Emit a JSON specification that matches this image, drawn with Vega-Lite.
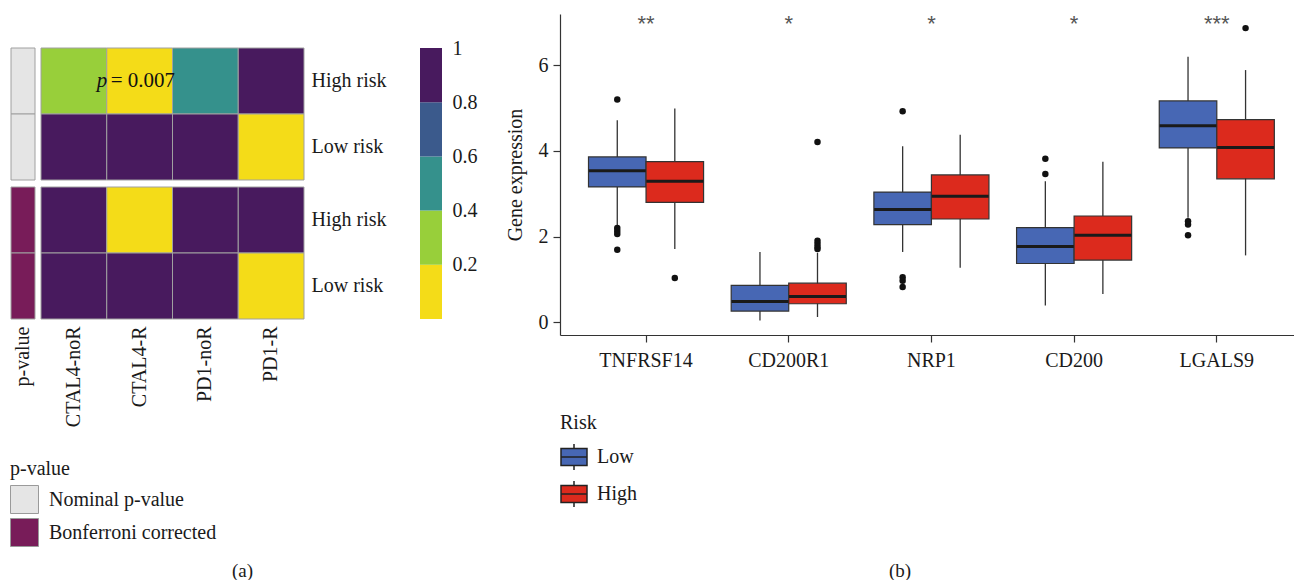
{
  "$schema": "https://vega.github.io/schema/vega-lite/v6.json",
  "background": "white",
  "padding": {"left": 10, "top": 13, "right": 0, "bottom": 0},
  "config": {
    "font": "Liberation Serif",
    "view": {"stroke": null},
    "axis": {"labelFont": "Liberation Serif", "labelFontSize": 20, "labelColor": "#1a1a1a", "titleFont": "Liberation Serif", "titleFontSize": 20, "titleFontWeight": "normal", "titleColor": "#1a1a1a", "domainColor": "#333333", "tickColor": "#333333", "grid": false},
    "legend": {"labelFont": "Liberation Serif", "titleFont": "Liberation Serif", "labelFontSize": 20, "titleFontSize": 20, "titleFontWeight": "normal", "labelColor": "#1a1a1a", "titleColor": "#1a1a1a", "labelLimit": 400},
    "text": {"font": "Liberation Serif"}
  },
  "datasets": {
    "pstrip": [
      {"group": "nom", "col": "p-value", "row": "High risk", "type": "Nominal p-value"},
      {"group": "nom", "col": "p-value", "row": "Low risk", "type": "Nominal p-value"},
      {"group": "bonf", "col": "p-value", "row": "High risk", "type": "Bonferroni corrected"},
      {"group": "bonf", "col": "p-value", "row": "Low risk", "type": "Bonferroni corrected"}
    ],
    "heat": [
      {"group": "nom", "col": "CTAL4-noR", "row": "High risk", "p": 0.3},
      {"group": "nom", "col": "CTAL4-R", "row": "High risk", "p": 0.007},
      {"group": "nom", "col": "PD1-noR", "row": "High risk", "p": 0.5},
      {"group": "nom", "col": "PD1-R", "row": "High risk", "p": 1},
      {"group": "nom", "col": "CTAL4-noR", "row": "Low risk", "p": 1},
      {"group": "nom", "col": "CTAL4-R", "row": "Low risk", "p": 1},
      {"group": "nom", "col": "PD1-noR", "row": "Low risk", "p": 1},
      {"group": "nom", "col": "PD1-R", "row": "Low risk", "p": 0.01},
      {"group": "bonf", "col": "CTAL4-noR", "row": "High risk", "p": 1},
      {"group": "bonf", "col": "CTAL4-R", "row": "High risk", "p": 0.056},
      {"group": "bonf", "col": "PD1-noR", "row": "High risk", "p": 1},
      {"group": "bonf", "col": "PD1-R", "row": "High risk", "p": 1},
      {"group": "bonf", "col": "CTAL4-noR", "row": "Low risk", "p": 1},
      {"group": "bonf", "col": "CTAL4-R", "row": "Low risk", "p": 1},
      {"group": "bonf", "col": "PD1-noR", "row": "Low risk", "p": 1},
      {"group": "bonf", "col": "PD1-R", "row": "Low risk", "p": 0.08}
    ],
    "cbar": [
      {"lo": 0, "hi": 0.2},
      {"lo": 0.2, "hi": 0.4},
      {"lo": 0.4, "hi": 0.6},
      {"lo": 0.6, "hi": 0.8},
      {"lo": 0.8, "hi": 1}
    ],
    "boxes": [
      {"gene": "TNFRSF14", "risk": "Low", "lo": 2.25, "q1": 3.16, "med": 3.54, "q3": 3.86, "hi": 4.72},
      {"gene": "TNFRSF14", "risk": "High", "lo": 1.71, "q1": 2.80, "med": 3.29, "q3": 3.75, "hi": 4.99},
      {"gene": "CD200R1", "risk": "Low", "lo": 0.04, "q1": 0.26, "med": 0.48, "q3": 0.86, "hi": 1.64},
      {"gene": "CD200R1", "risk": "High", "lo": 0.12, "q1": 0.43, "med": 0.60, "q3": 0.91, "hi": 1.62},
      {"gene": "NRP1", "risk": "Low", "lo": 1.64, "q1": 2.28, "med": 2.63, "q3": 3.04, "hi": 4.11},
      {"gene": "NRP1", "risk": "High", "lo": 1.27, "q1": 2.41, "med": 2.94, "q3": 3.44, "hi": 4.38},
      {"gene": "CD200", "risk": "Low", "lo": 0.39, "q1": 1.37, "med": 1.77, "q3": 2.21, "hi": 3.29},
      {"gene": "CD200", "risk": "High", "lo": 0.66, "q1": 1.45, "med": 2.03, "q3": 2.48, "hi": 3.75},
      {"gene": "LGALS9", "risk": "Low", "lo": 2.44, "q1": 4.07, "med": 4.59, "q3": 5.17, "hi": 6.2},
      {"gene": "LGALS9", "risk": "High", "lo": 1.56, "q1": 3.35, "med": 4.08, "q3": 4.73, "hi": 5.89}
    ],
    "outliers": [
      {"gene": "TNFRSF14", "risk": "Low", "v": 5.2},
      {"gene": "TNFRSF14", "risk": "Low", "v": 2.2},
      {"gene": "TNFRSF14", "risk": "Low", "v": 2.13},
      {"gene": "TNFRSF14", "risk": "Low", "v": 2.06},
      {"gene": "TNFRSF14", "risk": "Low", "v": 1.69},
      {"gene": "TNFRSF14", "risk": "High", "v": 1.03},
      {"gene": "CD200R1", "risk": "High", "v": 4.21},
      {"gene": "CD200R1", "risk": "High", "v": 1.9},
      {"gene": "CD200R1", "risk": "High", "v": 1.83},
      {"gene": "CD200R1", "risk": "High", "v": 1.76},
      {"gene": "CD200R1", "risk": "High", "v": 1.71},
      {"gene": "NRP1", "risk": "Low", "v": 4.93},
      {"gene": "NRP1", "risk": "Low", "v": 1.05},
      {"gene": "NRP1", "risk": "Low", "v": 0.97},
      {"gene": "NRP1", "risk": "Low", "v": 0.82},
      {"gene": "CD200", "risk": "Low", "v": 3.82},
      {"gene": "CD200", "risk": "Low", "v": 3.46},
      {"gene": "LGALS9", "risk": "Low", "v": 2.36},
      {"gene": "LGALS9", "risk": "Low", "v": 2.28},
      {"gene": "LGALS9", "risk": "Low", "v": 2.03},
      {"gene": "LGALS9", "risk": "High", "v": 6.87}
    ],
    "stars": [
      {"gene": "TNFRSF14", "label": "**"},
      {"gene": "CD200R1", "label": "*"},
      {"gene": "NRP1", "label": "*"},
      {"gene": "CD200", "label": "*"},
      {"gene": "LGALS9", "label": "***"}
    ]
  },
  "vconcat": [
    {
      "hconcat": [
        {
          "vconcat": [
            {"width": 10, "height": 34, "data": {"values": [{}]}, "mark": {"type": "text", "text": ""}},
            {
              "hconcat": [
                {
                  "hconcat": [
                    {
                      "vconcat": [
                        {
                          "width": 24, "height": 132,
                          "data": {"name": "pstrip"},
                          "transform": [{"filter": "datum.group === 'nom'"}],
                          "mark": {"type": "rect", "stroke": "#a0a0a0", "strokeWidth": 1},
                          "encoding": {
                            "x": {"field": "col", "type": "nominal", "axis": null, "scale": {"paddingInner": 0, "paddingOuter": 0}},
                            "y": {"field": "row", "type": "nominal", "axis": null, "scale": {"domain": ["High risk", "Low risk"], "paddingInner": 0, "paddingOuter": 0}},
                            "fill": {"field": "type", "type": "nominal", "scale": {"domain": ["Nominal p-value", "Bonferroni corrected"], "range": ["#E5E5E5", "#781C59"]},
                              "legend": {"orient": "none", "legendX": -1, "legendY": 445, "title": "p-value", "symbolType": "square", "symbolSize": 784, "symbolStrokeColor": "#9a9a9a", "symbolStrokeWidth": 1, "symbolOpacity": 1, "labelOffset": 10, "rowPadding": 0, "titlePadding": 6}}
                          }
                        },
                        {
                          "width": 24, "height": 132,
                          "data": {"name": "pstrip"},
                          "transform": [{"filter": "datum.group === 'bonf'"}],
                          "mark": {"type": "rect", "stroke": "#a0a0a0", "strokeWidth": 1},
                          "encoding": {
                            "x": {"field": "col", "type": "nominal", "axis": {"orient": "bottom", "labelAngle": -90, "ticks": false, "domain": false, "labelPadding": 7, "title": null}, "scale": {"paddingInner": 0, "paddingOuter": 0}},
                            "y": {"field": "row", "type": "nominal", "axis": null, "scale": {"domain": ["High risk", "Low risk"], "paddingInner": 0, "paddingOuter": 0}},
                            "fill": {"field": "type", "type": "nominal", "scale": {"domain": ["Nominal p-value", "Bonferroni corrected"], "range": ["#E5E5E5", "#781C59"]},
                              "legend": {"orient": "none", "legendX": -1, "legendY": 445, "title": "p-value", "symbolType": "square", "symbolSize": 784, "symbolStrokeColor": "#9a9a9a", "symbolStrokeWidth": 1, "symbolOpacity": 1, "labelOffset": 10, "rowPadding": 0, "titlePadding": 6}}
                          }
                        }
                      ],
                      "spacing": 7, "bounds": "flush"
                    },
                    {
                      "vconcat": [
                        {
                          "width": 263, "height": 132,
                          "layer": [
                            {
                              "data": {"name": "heat"},
                              "transform": [{"filter": "datum.group === 'nom'"}],
                              "mark": {"type": "rect", "stroke": "#a0a0a0", "strokeWidth": 1},
                              "encoding": {
                                "x": {"field": "col", "type": "nominal", "axis": null, "scale": {"domain": ["CTAL4-noR", "CTAL4-R", "PD1-noR", "PD1-R"], "paddingInner": 0, "paddingOuter": 0}},
                                "y": {"field": "row", "type": "nominal", "scale": {"domain": ["High risk", "Low risk"], "paddingInner": 0, "paddingOuter": 0}, "axis": {"orient": "right", "ticks": false, "domain": false, "labelPadding": 7, "title": null}},
                                "color": {"field": "p", "type": "quantitative", "scale": {"type": "threshold", "domain": [0.2, 0.4, 0.6, 0.8], "range": ["#F4DC18", "#98CF3A", "#35918C", "#3B5A8C", "#481A5E"]}, "legend": null}
                              }
                            },
                            {
                              "data": {"values": [{"col": "CTAL4-R", "row": "High risk"}]},
                              "mark": {"type": "text", "text": "p", "fontStyle": "italic", "align": "left", "baseline": "middle", "dx": -43, "fontSize": 21, "color": "#111111"},
                              "encoding": {"x": {"field": "col", "type": "nominal"}, "y": {"field": "row", "type": "nominal"}}
                            },
                            {
                              "data": {"values": [{"col": "CTAL4-R", "row": "High risk"}]},
                              "mark": {"type": "text", "text": "= 0.007", "align": "left", "baseline": "middle", "dx": -29, "fontSize": 21, "color": "#111111"},
                              "encoding": {"x": {"field": "col", "type": "nominal"}, "y": {"field": "row", "type": "nominal"}}
                            }
                          ]
                        },
                        {
                          "width": 263, "height": 132,
                          "data": {"name": "heat"},
                          "transform": [{"filter": "datum.group === 'bonf'"}],
                          "mark": {"type": "rect", "stroke": "#a0a0a0", "strokeWidth": 1},
                          "encoding": {
                            "x": {"field": "col", "type": "nominal", "scale": {"domain": ["CTAL4-noR", "CTAL4-R", "PD1-noR", "PD1-R"], "paddingInner": 0, "paddingOuter": 0}, "axis": {"orient": "bottom", "labelAngle": -90, "ticks": false, "domain": false, "labelPadding": 7, "title": null}},
                            "y": {"field": "row", "type": "nominal", "scale": {"domain": ["High risk", "Low risk"], "paddingInner": 0, "paddingOuter": 0}, "axis": {"orient": "right", "ticks": false, "domain": false, "labelPadding": 7, "title": null}},
                            "color": {"field": "p", "type": "quantitative", "scale": {"type": "threshold", "domain": [0.2, 0.4, 0.6, 0.8], "range": ["#F4DC18", "#98CF3A", "#35918C", "#3B5A8C", "#481A5E"]}, "legend": null}
                          }
                        }
                      ],
                      "spacing": 7, "bounds": "flush"
                    }
                  ],
                  "spacing": 30, "bounds": "flush"
                },
                {
                  "width": 22, "height": 271,
                  "data": {"name": "cbar"},
                  "mark": {"type": "rect"},
                  "encoding": {
                    "x": {"value": 0},
                    "x2": {"value": "width"},
                    "y": {"field": "lo", "type": "quantitative", "scale": {"domain": [0, 1], "nice": false, "zero": false}, "axis": {"orient": "right", "values": [0.2, 0.4, 0.6, 0.8, 1], "format": "~g", "ticks": false, "domain": false, "labelPadding": 10, "labelFlush": false, "title": null}},
                    "y2": {"field": "hi"},
                    "color": {"field": "lo", "type": "quantitative", "scale": {"type": "threshold", "domain": [0.2, 0.4, 0.6, 0.8], "range": ["#F4DC18", "#98CF3A", "#35918C", "#3B5A8C", "#481A5E"]}, "legend": null}
                  }
                }
              ],
              "spacing": 409, "bounds": "flush"
            }
          ],
          "spacing": 0, "bounds": "flush"
        },
        {
          "width": 734, "height": 321,
          "layer": [
            {
              "data": {"name": "boxes"},
              "mark": {"type": "rule", "color": "#333333", "strokeWidth": 1.3},
              "encoding": {
                "x": {"field": "gene", "type": "nominal", "scale": {"domain": ["TNFRSF14", "CD200R1", "NRP1", "CD200", "LGALS9"], "paddingInner": 0, "paddingOuter": 0.072, "align": 0.715}, "axis": {"title": null, "labelAngle": 0, "tickSize": 7, "labelPadding": 8, "domainWidth": 1.2, "tickWidth": 1.2}},
                "xOffset": {"field": "risk", "type": "nominal", "scale": {"domain": ["Low", "High"], "paddingInner": 0, "paddingOuter": 0.24}},
                "y": {"field": "lo", "type": "quantitative", "scale": {"domain": [-0.3, 7.2], "nice": false, "zero": false}, "axis": {"title": "Gene expression", "values": [0, 2, 4, 6], "tickSize": 7, "labelPadding": 5, "titlePadding": 13, "domainWidth": 1.2, "tickWidth": 1.2}},
                "y2": {"field": "hi"}
              }
            },
            {
              "data": {"name": "boxes"},
              "mark": {"type": "bar", "stroke": "#333333", "strokeWidth": 1.2},
              "encoding": {
                "x": {"field": "gene", "type": "nominal"},
                "xOffset": {"field": "risk", "type": "nominal"},
                "y": {"field": "q1", "type": "quantitative"},
                "y2": {"field": "q3"},
                "fill": {"field": "risk", "type": "nominal", "scale": {"domain": ["Low", "High"], "range": ["#4767B4", "#DC2A1D"]},
                  "legend": {"orient": "none", "legendX": 0, "legendY": 399, "direction": "vertical", "title": "Risk", "symbolType": "M-1,-0.65H1V0.65H-1Z M-1,0H1 M0,-0.65V-1 M0,0.65V1", "symbolSize": 676, "symbolStrokeColor": "#222222", "symbolStrokeWidth": 1.5, "symbolOpacity": 1, "labelOffset": 9, "rowPadding": 5, "titlePadding": 10}}
              }
            },
            {
              "data": {"name": "boxes"},
              "mark": {"type": "tick", "color": "#1a1a1a", "thickness": 3, "size": 57, "opacity": 1},
              "encoding": {
                "x": {"field": "gene", "type": "nominal"},
                "xOffset": {"field": "risk", "type": "nominal"},
                "y": {"field": "med", "type": "quantitative"}
              }
            },
            {
              "data": {"name": "outliers"},
              "mark": {"type": "point", "filled": true, "color": "#111111", "size": 42, "opacity": 1},
              "encoding": {
                "x": {"field": "gene", "type": "nominal"},
                "xOffset": {"field": "risk", "type": "nominal"},
                "y": {"field": "v", "type": "quantitative"}
              }
            },
            {
              "data": {"name": "stars"},
              "mark": {"type": "text", "font": "Liberation Sans", "fontSize": 22, "color": "#555555", "baseline": "alphabetic"},
              "encoding": {
                "x": {"field": "gene", "type": "nominal"},
                "y": {"datum": 6.8},
                "text": {"field": "label"}
              }
            }
          ]
        }
      ],
      "spacing": 549, "bounds": "flush",
      "resolve": {"scale": {"color": "independent", "fill": "independent"}}
    },
    {
      "hconcat": [
        {"width": 431, "height": 20, "data": {"values": [{"t": "(a)"}]}, "mark": {"type": "text", "fontSize": 19, "dx": 16, "color": "#1a1a1a"}, "encoding": {"text": {"field": "t"}}},
        {"width": 734, "height": 20, "data": {"values": [{"t": "(b)"}]}, "mark": {"type": "text", "fontSize": 19, "dx": -27, "color": "#1a1a1a"}, "encoding": {"text": {"field": "t"}}}
      ],
      "spacing": 118, "bounds": "flush"
    }
  ],
  "spacing": 547, "bounds": "flush"
}
